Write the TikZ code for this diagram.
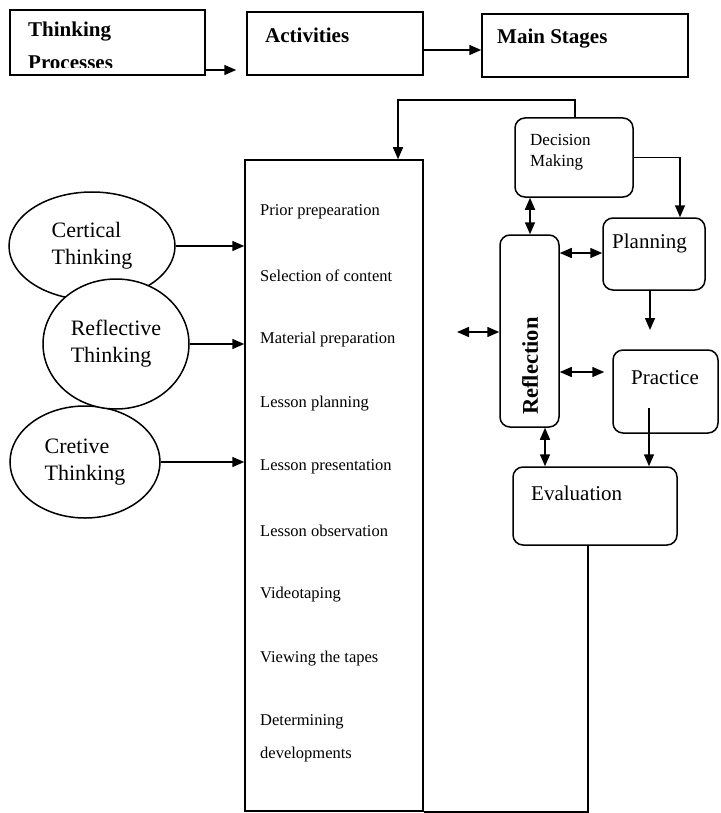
\documentclass[tikz,border=0pt]{standalone}
\usepackage{fontspec}
\setmainfont{Liberation Serif}
\usetikzlibrary{arrows.meta,shapes.geometric,calc}
\begin{document}
\begin{tikzpicture}[x=1pt,y=-1pt,
  lw/.style={line width=1.5pt},
  tip/.tip={Triangle[length=12pt,width=10pt]},
  arr/.style={lw,-tip},
  darr/.style={lw,tip-tip},
  sqbox/.style={draw,lw,inner sep=0pt},
  rbox/.style={draw,lw,rounded corners=10pt,inner sep=0pt},
  ell/.style={draw,lw,ellipse,fill=white,inner sep=0pt,align=left,font=\fontsize{22}{27}\selectfont},
  head/.style={anchor=west,inner sep=0pt,font=\fontsize{21}{24}\selectfont\bfseries},
  item/.style={anchor=west,inner sep=0pt,font=\fontsize{16.5}{19}\selectfont},
  stage/.style={anchor=west,inner sep=0pt,font=\fontsize{21}{24}\selectfont}]
\useasboundingbox[fill=white] (0,0) rectangle (720,813);

% header boxes
\begin{scope}
\clip (10,10) rectangle (205,68);
\node[head] (tpt1) at (28,32) {Thinking};
\node[head] (tpt2) at (28,63) {Processes};
\end{scope}
\node[sqbox,minimum width=195pt,minimum height=65pt] (tp) at (107.5,42.5) {};
\node[sqbox,minimum width=176pt,minimum height=63pt] (act) at (335,43.5) {};
\node[head] (actt) at (265,35) {Activities};
\node[sqbox,minimum width=206pt,minimum height=63pt] (ms) at (585,45.5) {};
\node[head] (mst) at (497,39) {Main Stages};
\coordinate (y70) at (0,70);
\coordinate (y50) at (0,50);
\draw[arr,shorten >=10pt] (tp.east |- y70) -- (act.west |- y70);
\draw[arr] (act.east |- y50) -- (ms.west |- y50);

% activities column
\node[sqbox,minimum width=178pt,minimum height=651pt] (lbox) at (334,485.5) {};
\node[item] (a1) at (260,212) {Prior prepearation};
\node[item] (a2) at (260,276) {Selection of content};
\node[item] (a3) at (260,340) {Material preparation};
\node[item] (a4) at (260,404) {Lesson planning};
\node[item] (a5) at (260,467) {Lesson presentation};
\node[item] (a6) at (260,531) {Lesson observation};
\node[item] (a7) at (260,595) {Videotaping};
\node[item] (a8) at (260,659) {Viewing the tapes};
\node[item] (a9) at (260,722) {Determining};
\node[item] (a10) at (260,755) {developments};

% thinking ellipses
\node[ell,minimum width=166pt,minimum height=108pt] (ct) at (92,246) {Certical\\Thinking};
\node[ell,minimum width=150pt,minimum height=112pt] (cr) at (85,462) {Cretive\\Thinking};
\node[ell,minimum width=146pt,minimum height=130pt] (rt) at (116,344) {Reflective\\Thinking};
\draw[arr] (ct.east) -- (ct.east -| lbox.west);
\draw[arr] (rt.east) -- (rt.east -| lbox.west);
\draw[arr] (cr.east) -- (cr.east -| lbox.west);

% stages
\node[rbox,minimum width=118pt,minimum height=79pt] (dm) at (574,157.5) {};
\node[item,align=left,font=\fontsize{17}{21}\selectfont] (dmt) at (530,152.5) {Decision\\Making};
\node[rbox,minimum width=102pt,minimum height=72pt] (pl) at (654,254) {};
\node[stage] (plt) at (612,243) {Planning};
\node[rbox,minimum width=105pt,minimum height=83pt] (pr) at (665.5,391.5) {};
\node[stage] (prt) at (631,378) {Practice};
\node[rbox,minimum width=59pt,minimum height=192pt] (rf) at (529.5,331) {};
\node[rotate=90,inner sep=0pt,font=\fontsize{22.5}{24}\selectfont\bfseries] (rft) at (530,366) {Reflection};
\node[rbox,minimum width=164pt,minimum height=78pt] (ev) at (595,506) {};
\node[stage] (evt) at (531,493) {Evaluation};

% connectors
\coordinate (top) at (398,100);
\draw[arr] (575,118) |- (top) -- (top |- lbox.north);
\coordinate (c680) at (680,0);
\draw[arr] (dm.east) -| (c680 |- pl.north);
\coordinate (plb) at (650,290);
\coordinate (ple) at (650,330);
\draw[arr] (plb) -- (ple);
\coordinate (prs) at (649,408);
\draw[arr] (prs) -- (prs |- ev.north);
\coordinate (x530) at (530,0);
\draw[darr] (x530 |- dm.south) -- (x530 |- rf.north);
\coordinate (y253) at (0,253);
\draw[darr] (rf.east |- y253) -- (pl.west |- y253);
\coordinate (y372) at (0,372);
\draw[darr,shorten >=8pt] (rf.east |- y372) -- (pr.west |- y372);
\coordinate (lft) at (457,332);
\draw[darr] (lft) -- (lft -| rf.west);
\coordinate (x545) at (545,0);
\draw[darr] (x545 |- rf.south) -- (x545 |- ev.north);
\coordinate (x588) at (588,0);
\draw[lw] (x588 |- ev.south) |- (lbox.south east);
\end{tikzpicture}
\end{document}
